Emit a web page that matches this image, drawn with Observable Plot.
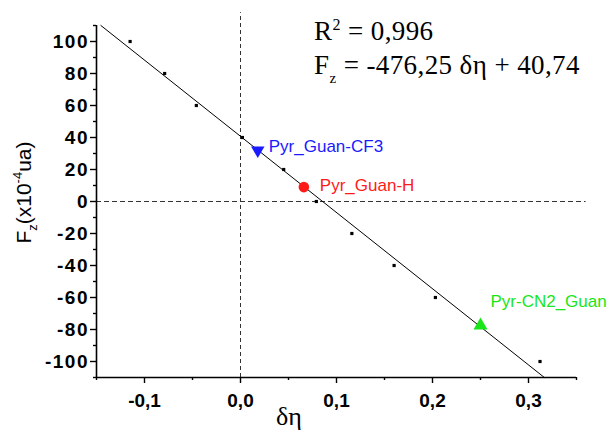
<!DOCTYPE html>
<html><head><meta charset="utf-8">
<script src="https://cdn.jsdelivr.net/npm/d3@7"></script>
<script src="https://cdn.jsdelivr.net/npm/@observablehq/plot@0.6"></script>
<style>
body{margin:0;background:#fff}
#chart svg{display:block}
.yax text{letter-spacing:1.5px}
</style>
</head><body><div id="chart"></div>
<script>
// Data
const deltaEta = [-0.115, -0.079, -0.046, 0.002, 0.045, 0.079, 0.116, 0.160, 0.203, 0.312];
const fz = [100, 80, 60, 40, 20, 0, -20, -40, -60, -100];
const markerNames = ["Pyr_Guan-CF3", "Pyr_Guan-H", "Pyr-CN2_Guan"];
const markerDeltaEta = [0.018, 0.066, 0.250];
const markerFz = [32, 9, -77.5];
const fitSlope = -476.25;
const fitIntercept = 40.74;
const rSquaredText = "0,996";
const xDomain = [-0.15, 0.35];
const yDomain = [-110, 110];
const xMajorTicks = [-0.1, 0.0, 0.1, 0.2, 0.3];
const xMinorTicks = [-0.15, -0.05, 0.05, 0.15, 0.25, 0.35];
const yMajorTicks = [-100, -80, -60, -40, -20, 0, 20, 40, 60, 80, 100];
const yMinorTicks = [-110, -90, -70, -50, -30, -10, 10, 30, 50, 70, 90, 110];

const points = deltaEta.map((x, i) => ({x, y: fz[i]}));
const markers = markerNames.map((name, i) => ({name, x: markerDeltaEta[i], y: markerFz[i]}));
const fitLine = yDomain.map(y => ({x: (y - fitIntercept) / fitSlope, y}));
const byName = n => markers.filter(d => d.name === n);

const colors = {"Pyr_Guan-CF3": "#1a1aff", "Pyr_Guan-H": "#ff1a1a", "Pyr-CN2_Guan": "#19e619"};
const sans = "'Liberation Sans', Arial, sans-serif";
const commaFmt = d => d.toFixed(1).replace(".", ",");

const svg = Plot.plot({
  width: 609, height: 432,
  marginLeft: 96, marginRight: 33, marginTop: 25, marginBottom: 55,
  x: {domain: xDomain},
  y: {domain: yDomain},
  style: {background: "white", fontFamily: sans, color: "black"},
  marks: [
    Plot.ruleX([0], {y1: yDomain[0], y2: 118, stroke: "#333", strokeDasharray: "4,3", strokeWidth: 1}),
    Plot.ruleY([0], {x1: xDomain[0], x2: 0.36, stroke: "#333", strokeDasharray: "5,3", strokeWidth: 1}),
    Plot.line(fitLine, {x: "x", y: "y", stroke: "black", strokeWidth: 1}),
    Plot.dot(points, {x: "x", y: "y", symbol: "square", r: 1.8, fill: "black"}),
    Plot.dot(byName("Pyr_Guan-CF3"), {x: "x", y: "y", symbol: "triangle", rotate: 180, r: 5, fill: colors["Pyr_Guan-CF3"]}),
    Plot.dot(byName("Pyr_Guan-H"), {x: "x", y: "y", symbol: "circle", r: 5.3, fill: colors["Pyr_Guan-H"]}),
    Plot.dot(byName("Pyr-CN2_Guan"), {x: "x", y: "y", symbol: "triangle", r: 5.2, fill: colors["Pyr-CN2_Guan"]}),
    Plot.text(byName("Pyr_Guan-CF3"), {x: "x", y: "y", text: "name", fill: colors["Pyr_Guan-CF3"], textAnchor: "start", dx: 11, dy: -4, fontSize: 17}),
    Plot.text(byName("Pyr_Guan-H"), {x: "x", y: "y", text: "name", fill: colors["Pyr_Guan-H"], textAnchor: "start", dx: 16, dy: -2, fontSize: 17}),
    Plot.text(byName("Pyr-CN2_Guan"), {x: "x", y: "y", text: "name", fill: colors["Pyr-CN2_Guan"], textAnchor: "start", dx: 10, dy: -24, fontSize: 17}),
    Plot.ruleX([xDomain[0]], {y1: yDomain[0], y2: yDomain[1], strokeWidth: 1.6}),
    Plot.ruleY([yDomain[0]], {x1: xDomain[0], x2: xDomain[1], strokeWidth: 1.6}),
    Plot.axisX({ticks: xMajorTicks, tickSize: 6, tickPadding: 10, tickFormat: commaFmt, label: null, fontSize: 19, fontWeight: "bold", strokeWidth: 1.4}),
    Plot.axisX({ticks: xMinorTicks, tickSize: 3, tickFormat: () => "", label: null, strokeWidth: 1.4}),
    Plot.axisY({ticks: yMajorTicks, tickSize: 6, tickPadding: 1.5, tickFormat: d => `${d}`, label: null, fontSize: 19, fontWeight: "bold", strokeWidth: 1.4, className: "yax"}),
    Plot.axisY({ticks: yMinorTicks, tickSize: 3, tickFormat: () => "", label: null, strokeWidth: 1.4})
  ]
});
document.getElementById("chart").appendChild(svg);

const s = d3.select(svg);
const serif = "'Liberation Serif', 'Times New Roman', serif";
// R² line
const t1 = s.append("text").attr("x", 314).attr("y", 40).attr("text-anchor", "start").attr("font-family", serif)
  .attr("font-size", 27).attr("letter-spacing", 0.4).attr("fill", "black");
t1.append("tspan").text("R");
t1.append("tspan").attr("font-size", 16).attr("dy", -10).text("2");
t1.append("tspan").attr("dy", 10).text(" = " + rSquaredText);
// Equation line
const t2 = s.append("text").attr("x", 314).attr("y", 74).attr("text-anchor", "start").attr("font-family", serif)
  .attr("font-size", 27).attr("letter-spacing", 0.4).attr("fill", "black");
t2.append("tspan").text("F");
t2.append("tspan").attr("font-size", 15).attr("dy", 9).text("z");
t2.append("tspan").attr("dy", -9).text(` = -${Math.abs(fitSlope).toFixed(2).replace(".", ",")} δη + ${fitIntercept.toFixed(2).replace(".", ",")}`);
// Y label
const yl = s.append("text").attr("transform", "translate(31,192.5) rotate(-90)").attr("text-anchor", "middle")
  .attr("font-family", sans).attr("font-size", 21).attr("fill", "black");
yl.append("tspan").text("F");
yl.append("tspan").attr("font-size", 13).attr("dy", 6).text("z");
yl.append("tspan").attr("dy", -6).text("(x10");
yl.append("tspan").attr("font-size", 13).attr("dy", -9).text("-4");
yl.append("tspan").attr("dy", 9).text("ua)");
// X label
s.append("text").attr("x", 289).attr("y", 425).attr("text-anchor", "middle")
  .attr("font-family", serif).attr("font-size", 26).attr("fill", "black").text("δη");
</script>
</body></html>
